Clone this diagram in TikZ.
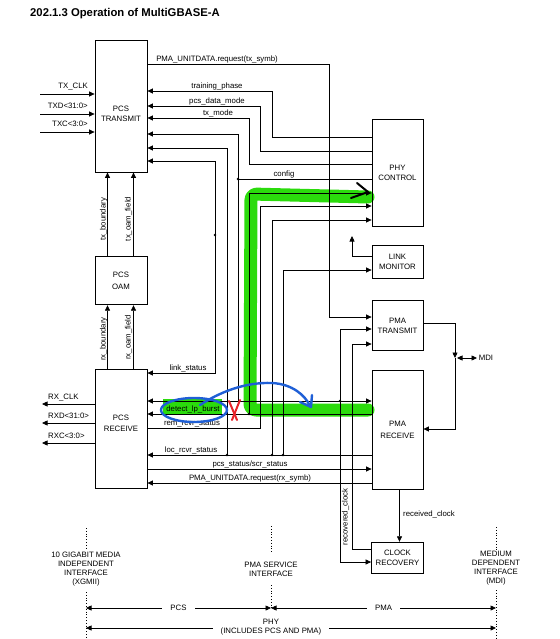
\documentclass[tikz,border=0pt]{standalone}
\usepackage{fontspec}
\setmainfont{Liberation Sans}
\usetikzlibrary{arrows.meta, positioning, calc}
\definecolor{MarkGreen}{HTML}{2BDB0C}
\definecolor{MarkBlue}{HTML}{1F5FD6}
\definecolor{MarkRed}{HTML}{E8232A}
\newcommand{\sigfont}{\fontsize{7.8}{10}\selectfont}
\newcommand{\ifacefont}{\fontsize{7.8}{9}\selectfont}

\begin{document}
\begin{tikzpicture}[
    x=1pt, y=-1pt,
    blk/.style={
      rectangle, draw, line width=0.8pt, inner sep=0pt, align=center, font=\sigfont
    },
    sig/.style={font=\sigfont, inner sep=0pt, anchor=base},
    vsig/.style={font=\sigfont, inner sep=0pt, rotate=90, anchor=center},
    wire/.style={line width=0.7pt},
    arr/.style={wire, -{Triangle[length=5.5pt, width=5pt]}},
    darr/.style={wire, {Triangle[length=5.5pt, width=5pt]}-{Triangle[length=5.5pt, width=5pt]}},
    dot/.style={circle, fill, inner sep=0pt, minimum size=2.6pt},
    iface/.style={font=\ifacefont, align=center, inner sep=2pt},
    iline/.style={dotted, line width=0.8pt},
    span/.style={font=\ifacefont, align=center, fill=white, inner xsep=8pt, inner ysep=0pt},
    hl/.style={MarkGreen, line width=13pt, rounded corners=6pt, line cap=round, line join=round},
    pen/.style={line width=2.4pt, line cap=round, line join=round}
  ]
    \useasboundingbox (0,0) rectangle (559,639);

    \node[font=\bfseries\fontsize{11.3}{13}\selectfont, inner sep=0pt, anchor=base west] (title) at (30,17) {202.1.3 Operation of MultiGBASE-A};

    % highlighter marks (under the wiring)
    \draw[hl] (368,197) -- (251,194) -- (250,410) -- (368,410);
    \fill[MarkGreen] (163,399) rectangle (222,414);

    % blocks
    \node[blk, minimum width=52pt, minimum height=132pt] (pcstx) at (121,106) {};
    \node[font=\sigfont, align=center, inner sep=0pt] (pcstxlbl) at (121,114) {PCS\\TRANSMIT};
    \node[blk, minimum width=52pt, minimum height=48pt, below=84pt of pcstx] (pcsoam) {PCS\\[2pt]OAM};
    \node[blk, minimum width=52pt, minimum height=119pt, below=64pt of pcsoam] (pcsrx) {};
    \node[font=\sigfont, align=center, inner sep=0pt] (pcsrxlbl) at (121,423.5) {PCS\\[1pt]RECEIVE};

    \node[blk, minimum width=51pt, minimum height=107pt] (phyctl) at (397.5,172.5) {PHY\\CONTROL};
    \node[blk, minimum width=51pt, minimum height=33pt, below=19pt of phyctl] (linkmon) {LINK\\MONITOR};
    \node[blk, minimum width=51pt, minimum height=50pt, below=21pt of linkmon] (pmatx) {PMA\\TRANSMIT};
    \node[blk, minimum width=51pt, minimum height=119pt, below=19pt of pmatx] (pmarx) {PMA\\[2pt]RECEIVE};
    \node[blk, minimum width=52pt, minimum height=31pt, below=52pt of pmarx] (clkrec) {CLOCK\\RECOVERY};

    % XGMII side
    \coordinate (xin) at (40,0);
    \coordinate (xout) at (42,0);
    \foreach \yy/\txt/\nm in {94/TX\_CLK/txclk, 114/TXD<31:0>/txd, 132/TXC<3:0>/txc} {
      \draw[arr] (xin |- 0,\yy) -- (pcstx.west |- 0,\yy);
      \node[sig, anchor=base east] (\nm) at (88,\yy-5) {\txt};
    }
    \foreach \yy/\txt/\nm in {404/RX\_CLK/rxclk, 423/RXD<31:0>/rxd, 443/RXC<3:0>/rxc} {
      \draw[arr] (pcsrx.west |- 0,\yy) -- (xout |- 0,\yy);
      \node[sig, anchor=base west] (\nm) at (48,\yy-5) {\txt};
    }

    % OAM
    \draw[arr] (pcsoam.north -| 107.5,0) -- (pcstx.south -| 107.5,0);
    \draw[arr] (pcsoam.north -| 133.5,0) -- (pcstx.south -| 133.5,0);
    \draw[arr] (pcsrx.north -| 107.5,0) -- (pcsoam.south -| 107.5,0);
    \draw[arr] (pcsrx.north -| 133.5,0) -- (pcsoam.south -| 133.5,0);
    \node[vsig] (txbnd) at (103.5,219.5) {tx\_boundary};
    \node[vsig] (txoam) at (128.5,219) {tx\_oam\_field};
    \node[vsig] (rxbnd) at (103.5,339) {rx\_boundary};
    \node[vsig] (rxoam) at (128.5,337.5) {rx\_oam\_field};

    % transmit path
    \draw[arr] (pcstx.east |- 0,64) -| (329,317) -- (pmatx.west |- 0,317);
    \node[sig] (txsymb) at (217,62) {PMA\_UNITDATA.request(tx\_symb)};

    % PHY CONTROL to PCS TRANSMIT
    \draw[arr] (phyctl.west |- 0,137) -| (272,91) -- (pcstx.east |- 0,91);
    \draw[arr] (phyctl.west |- 0,151) -| (260,106) -- (pcstx.east |- 0,106);
    \draw[arr] (phyctl.west |- 0,164) -| (249,118) -- (pcstx.east |- 0,118);
    \node[sig] (trph) at (217,88.5) {training\_phase};
    \node[sig] (pcsdm) at (217,103.5) {pcs\_data\_mode};
    \node[sig] (txmd) at (218,115.5) {tx\_mode};

    % config
    \coordinate (cfg) at (238,179);
    \coordinate (cfgrx) at (238,401);
    \coordinate (cfgpma) at (340,401);
    \draw[wire] (phyctl.west |- cfg) -- (cfg);
    \draw[arr] (cfgrx) |- (pcstx.east |- 0,134);
    \draw[arr] (cfgrx) -- (pcsrx.east |- cfgrx);
    \draw[arr] (cfgrx) -- (pmarx.west |- cfgrx);
    \draw[arr] (cfgpma) |- (pmatx.west |- 0,329);
    \draw[arr] (cfgpma) |- (clkrec.west |- 0,562);
    \node[dot] (dcfg) at (cfg) {};
    \node[dot] (dcfgpma) at (cfgpma) {};
    \node[sig] (config) at (284,176.5) {config};

    % link_status
    \coordinate (lnk) at (215,235);
    \draw[arr] (lnk) |- (pcstx.east |- 0,161);
    \draw[arr] (lnk) |- (pcsrx.east |- 0,373);
    \node[dot] (dlnk) at (lnk) {};
    \draw[arr] (linkmon.west |- 0,256) -| (352,236);
    \node[sig] (lnkst) at (188,370.5) {link\_status};

    % loc_rcvr_status
    \coordinate (loc) at (227,455);
    \draw[arr] (pmarx.west |- loc) -- (pcsrx.east |- loc);
    \draw[arr] (loc) |- (pcstx.east |- 0,148);
    \draw[arr] (loc -| 272,0) |- (phyctl.west |- 0,220);
    \draw[arr] (loc -| 283,0) |- (linkmon.west |- 0,270);
    \node[dot] (dloc1) at (loc) {};
    \node[dot] (dloc2) at (loc -| 272,0) {};
    \node[dot] (dloc3) at (loc -| 283,0) {};
    \node[sig] (locst) at (191,452.5) {loc\_rcvr\_status};

    % detect_lp_burst
    \coordinate (lpb) at (249,414);
    \draw[arr] (pmarx.west |- lpb) -- (pcsrx.east |- lpb);
    \draw[arr] (lpb) |- (phyctl.west |- 0,193);
    \node[dot] (dlpb) at (lpb) {};
    \node[sig] (lpburst) at (193,411.5) {detect\_lp\_burst};

    % rem_rcvr_status
    \draw[arr] (pcsrx.east |- 0,428) -| (260,206) -- (phyctl.west |- 0,206);
    \node[sig] (remst) at (192,425.5) {rem\_rcvr\_status};

    % receive path
    \draw[arr] (pcsrx.east |- 0,469) -- (pmarx.west |- 0,469);
    \draw[arr] (pmarx.west |- 0,483) -- (pcsrx.east |- 0,483);
    \node[sig] (scrst) at (250,466.5) {pcs\_status/scr\_status};
    \node[sig] (rxsymb) at (250,480.5) {PMA\_UNITDATA.request(rx\_symb)};

    % clocks
    \draw[arr] (clkrec.west |- 0,549) -| (352,344) -- (pmatx.west |- 0,344);
    \node[vsig] (recclk) at (345.5,517) {recovered\_clock};
    \draw[arr] ([xshift=2pt]pmarx.south) -- ([xshift=2pt]clkrec.north);
    \node[sig, anchor=base west] (rcvclk) at (403,516.5) {received\_clock};

    % MDI
    \coordinate (mdi) at (455,358);
    \draw[arr] (pmatx.east |- 0,323) -| (mdi);
    \draw[arr] (mdi) |- (pmarx.east |- 0,429);
    \draw[darr] ([xshift=2pt]mdi) -- ++(20,0) node[font=\sigfont, anchor=west, inner sep=1.5pt] (mdilbl) {MDI};

    % interfaces
    \node[iface] (xgmii) at (86,569.5) {10 GIGABIT MEDIA\\INDEPENDENT\\INTERFACE\\(XGMII)};
    \node[iface] (psi) at (271,569.5) {PMA SERVICE\\INTERFACE};
    \node[iface] (mdiif) at (496,568.5) {MEDIUM\\DEPENDENT\\INTERFACE\\(MDI)};
    \draw[iline] (xgmii.north |- 0,528) -- (xgmii.north |- 0,548);
    \draw[iline] (xgmii.south |- 0,592) -- (xgmii.south |- 0,639);
    \draw[iline] (psi.north |- 0,526) -- (psi.north |- 0,553);
    \draw[iline] (psi.south |- 0,585) -- (psi.south |- 0,609);
    \draw[iline] (mdiif.north |- 0,527) -- (mdiif.north |- 0,550);
    \draw[iline] (mdiif.south |- 0,590) -- (mdiif.south |- 0,639);

    \draw[darr] (xgmii.south |- 0,608) -- node[span] (pcsspan) {PCS} (psi.south |- 0,608);
    \draw[darr] (psi.south |- 0,608) -- node[span] (pmaspan) {PMA} (mdiif.south |- 0,608);
    \draw[darr] (xgmii.south |- 0,628) -- (mdiif.south |- 0,628);
    \node[span] (physpan) at (271,627.5) {PHY\\(INCLUDES PCS AND PMA)};

    % pen marks on top
    \draw[pen, line width=2pt] (357,183) -- (368,192) -- (351,198);
    \draw[pen, MarkBlue] (194,410) ellipse [x radius=33pt, y radius=12pt];
    \draw[pen, MarkBlue] (200,405) .. controls (220,392) and (245,382) .. (272,383)
      .. controls (292,384) and (305,395) .. (310,406);
    \draw[pen, MarkBlue] (300,402) -- (311,407) -- (312,395);
    \draw[pen, MarkRed, line width=2pt] (229,401) -- (237,420);
    \draw[pen, MarkRed, line width=2pt] (240,400) -- (232,420);
  \end{tikzpicture}
\end{document}
